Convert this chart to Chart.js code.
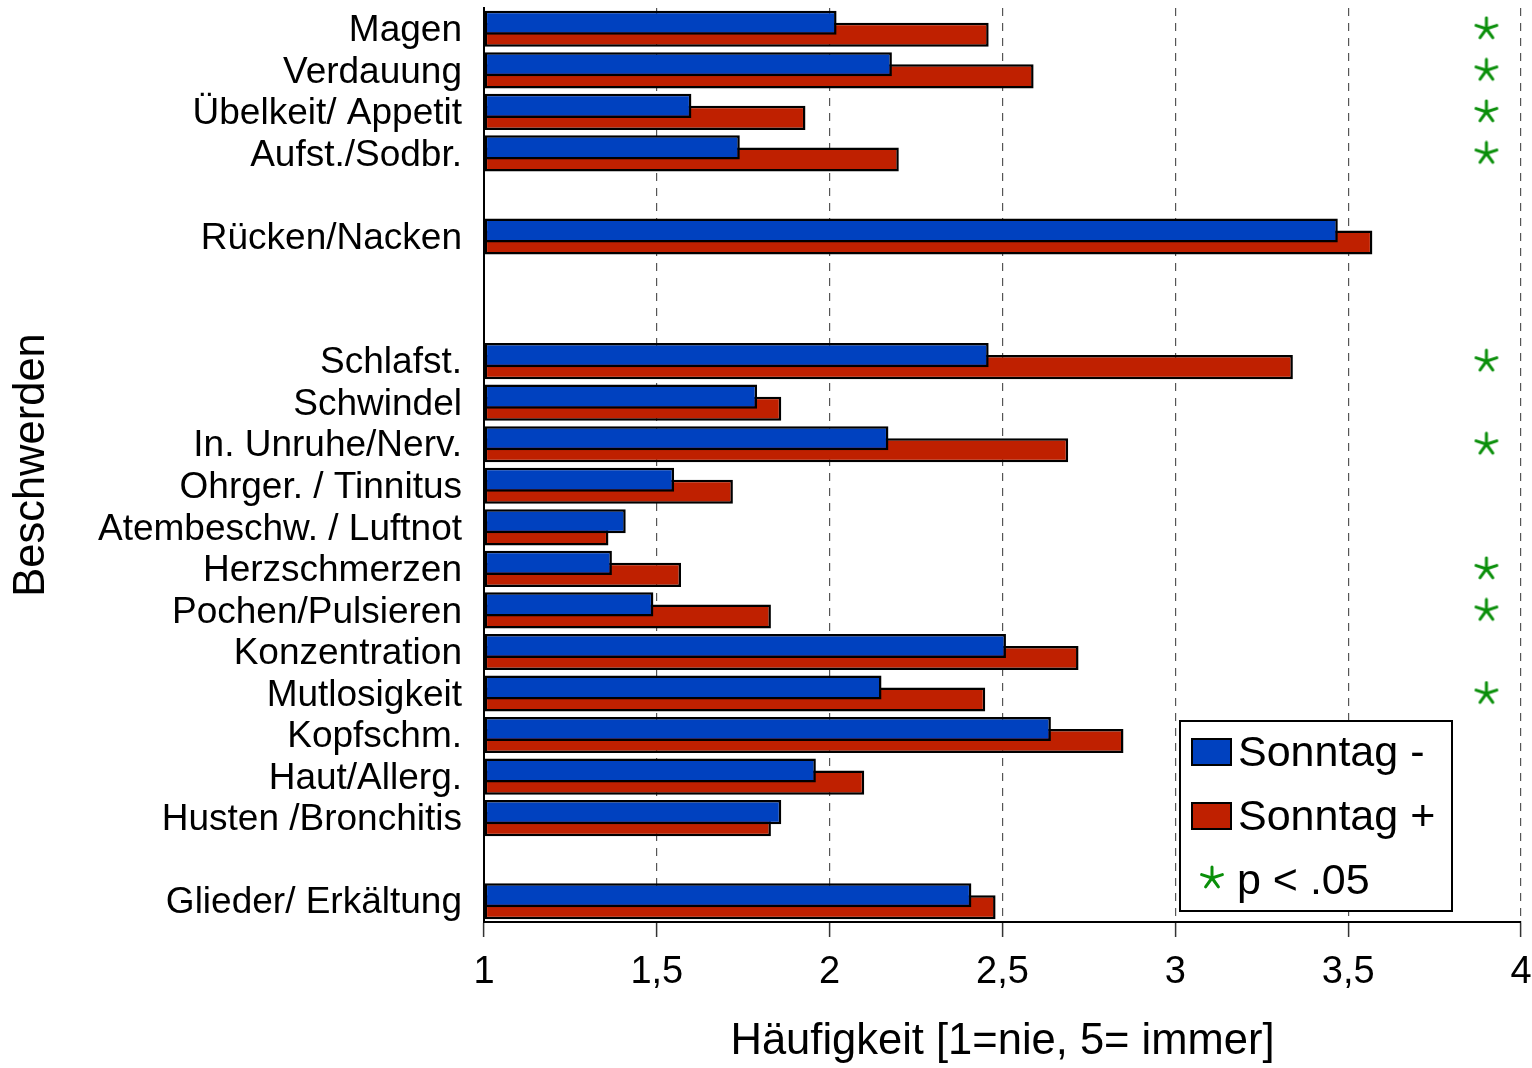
<!DOCTYPE html>
<html lang="de">
<head>
  <meta charset="UTF-8" />
  <title>Beschwerden – Sonntag</title>
  <script src="https://cdn.jsdelivr.net/npm/chart.js"></script>
  <style>
    html, body { margin: 0; padding: 0; background: #fff; }
    #wrap { width: 1532px; height: 1068px; }
  </style>
</head>
<body>
  <div id="wrap"><canvas id="complaintChart"></canvas></div>

  <script>
    // empty strings are the gaps between the groups of complaints
    const categories = [
      'Magen', 'Verdauung', 'Übelkeit/ Appetit', 'Aufst./Sodbr.', '',
      'Rücken/Nacken', '', '',
      'Schlafst.', 'Schwindel', 'In. Unruhe/Nerv.', 'Ohrger. / Tinnitus',
      'Atembeschw. / Luftnot', 'Herzschmerzen', 'Pochen/Pulsieren', 'Konzentration',
      'Mutlosigkeit', 'Kopfschm.', 'Haut/Allerg.', 'Husten /Bronchitis', '',
      'Glieder/ Erkältung'
    ];
    const sonntagMinus = [2.02, 2.18, 1.60, 1.74, null, 3.47, null, null,
      2.46, 1.79, 2.17, 1.55, 1.41, 1.37, 1.49, 2.51, 2.15, 2.64, 1.96, 1.86, null, 2.41];
    const sonntagPlus = [2.46, 2.59, 1.93, 2.20, null, 3.57, null, null,
      3.34, 1.86, 2.69, 1.72, 1.36, 1.57, 1.83, 2.72, 2.45, 2.85, 2.10, 1.83, null, 2.48];
    const significant = [1, 1, 1, 1, 0, 0, 0, 0, 1, 0, 1, 0, 0, 1, 1, 0, 1, 0, 0, 0, 0, 0];
    const starColumn = 3.9;
    const xTicks = [1, 1.5, 2, 2.5, 3, 3.5, 4];

    const BLUE = '#0041bf';
    const RED = '#bf2000';
    const GREEN = '#0a8f0a';
    const FONT = '"Liberation Sans", Arial, Helvetica, sans-serif';

    // little 5-armed asterisk used as point style for the significance marks
    function makeStar(size) {
      const c = document.createElement('canvas');
      c.width = size; c.height = size;
      const g = c.getContext('2d');
      const m = size / 2, r = size * 0.42;
      g.strokeStyle = GREEN;
      g.lineWidth = 3;
      g.lineCap = 'round';
      for (let k = 0; k < 5; k++) {
        const a = (-90 + k * 72) * Math.PI / 180;
        g.beginPath();
        g.moveTo(m, m);
        g.lineTo(m + r * Math.cos(a), m + r * Math.sin(a));
        g.stroke();
      }
      return c;
    }
    const starImg = makeStar(26);

    const legendBox = {
      id: 'legendBox',
      afterDraw(chart) {
        const ctx = chart.ctx;
        const x = 1180, y = 721, w = 272, h = 190;
        ctx.save();
        ctx.fillStyle = '#fff';
        ctx.fillRect(x, y, w, h);
        ctx.lineWidth = 2;
        ctx.strokeStyle = '#000';
        ctx.strokeRect(x, y, w, h);

        const ds = chart.data.datasets;
        const rows = [{ c: ds[0].backgroundColor, t: ds[0].label, cy: 752 },
                      { c: ds[1].backgroundColor, t: ds[1].label, cy: 816 }];
        ctx.font = '43px ' + FONT;
        ctx.textBaseline = 'middle';
        ctx.textAlign = 'left';
        rows.forEach(r => {
          ctx.fillStyle = r.c;
          ctx.fillRect(x + 12, r.cy - 13, 39, 26);
          ctx.strokeRect(x + 12, r.cy - 13, 39, 26);
          ctx.fillStyle = '#000';
          ctx.fillText(r.t, x + 58, r.cy + 2);
        });
        ctx.drawImage(starImg, x + 32 - 13, 878 - 13);
        ctx.fillStyle = '#000';
        ctx.fillText('p < .05', x + 57, 882);
        ctx.restore();
      }
    };

    new Chart(document.getElementById('complaintChart'), {
      type: 'bar',
      data: {
        labels: categories,
        datasets: [
          {
            label: 'Sonntag -',
            data: sonntagMinus,
            backgroundColor: BLUE,
            borderColor: '#000',
            borderWidth: 2.5,
            borderSkipped: false,
            base: 1,
            categoryPercentage: 0.58,
            barPercentage: 2
          },
          {
            label: 'Sonntag +',
            data: sonntagPlus,
            backgroundColor: RED,
            borderColor: '#000',
            borderWidth: 2.5,
            borderSkipped: false,
            base: 1,
            categoryPercentage: 0.58,
            barPercentage: 2
          },
          {
            type: 'line',
            label: 'p < .05',
            indexAxis: 'y',
            data: significant.map(s => s ? starColumn : null),
            showLine: false,
            pointStyle: starImg,
            pointRadius: 12,
            pointHoverRadius: 12
          }
        ]
      },
      options: {
        indexAxis: 'y',
        responsive: true,
        maintainAspectRatio: false,
        animation: false,
        layout: { autoPadding: false, padding: { top: 8, right: 0, left: 0, bottom: 0 } },
        plugins: {
          legend: { display: false },
          tooltip: { enabled: false }
        },
        scales: {
          x: {
            type: 'linear',
            position: 'bottom',
            min: 1,
            max: 4,
            afterBuildTicks: s => { s.ticks = xTicks.map(v => ({ value: v })); },
            afterFit: s => {
              s.height = 146;
              s.paddingLeft = 0;
              s.paddingRight = 11;
            },
            ticks: {
              color: '#000',
              font: { family: FONT, size: 38 },
              padding: 13,
              maxRotation: 0,
              callback: v => String(v).replace('.', ',')
            },
            grid: {
              color: '#555',
              lineWidth: 1.2,
              tickColor: '#333',
              tickLength: 15,
              tickWidth: 1.5
            },
            border: { color: '#000', width: 2, dash: [8, 7] },
            title: {
              display: true,
              text: 'Häufigkeit [1=nie, 5= immer]',
              color: '#000',
              font: { family: FONT, size: 43.5 },
              padding: { top: 8, bottom: 0 }
            }
          },
          y: {
            type: 'category',
            afterFit: s => {
              s.width = 484;
              s.paddingTop = 0;
              s.paddingBottom = 0;
            },
            ticks: {
              color: '#000',
              font: { family: FONT, size: 37 },
              padding: 22,
              labelOffset: 2,
              autoSkip: false
            },
            grid: { display: false, drawTicks: false },
            border: { display: true, color: '#000', width: 2 },
            title: {
              display: true,
              text: 'Beschwerden',
              color: '#000',
              font: { family: FONT, size: 43.5 },
              padding: { top: 6, bottom: 0 }
            }
          }
        }
      },
      plugins: [legendBox]
    });
  </script>
</body>
</html>
